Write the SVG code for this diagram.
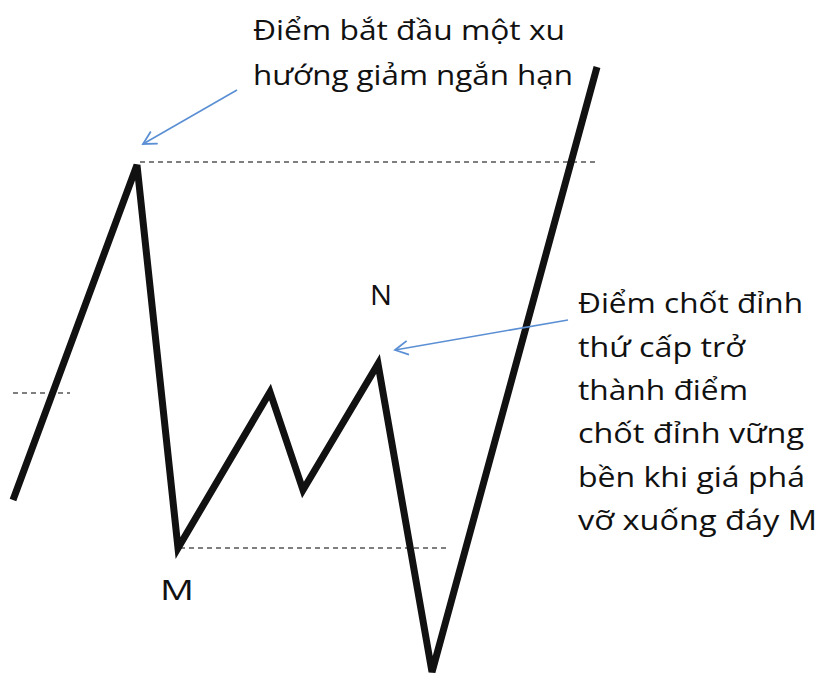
<svg xmlns="http://www.w3.org/2000/svg" width="819" height="677" viewBox="0 0 819 677">
<style>
.t{font-family:"Open Sans","Noto Sans","DejaVu Sans",sans-serif;font-size:28px;fill:#111}
.dash{stroke:#555;stroke-width:1.6;stroke-dasharray:5,4;fill:none}
.arr{stroke:#5b8fd4;stroke-width:1.6;fill:none}
</style>
<defs>
<marker id="ah" markerWidth="16" markerHeight="16" refX="14" refY="8" orient="auto" markerUnits="userSpaceOnUse">
<path d="M1,1 L14,8 L1,15" fill="none" stroke="#5b8fd4" stroke-width="1.8"/>
</marker>
</defs>
<rect width="819" height="677" fill="#fff"/>
<g id="levels">
<line class="dash" x1="13" y1="393" x2="70" y2="393"/>
<line class="dash" x1="140" y1="162" x2="597" y2="162"/>
<line class="dash" x1="180" y1="548" x2="448" y2="548"/>
</g>
<g id="price">
<polyline points="13,500 137,165 178,548 270,392 303,490 378,364 432,672 597,67" fill="none" stroke="#111" stroke-width="7" stroke-linejoin="miter"/>
</g>
<g id="connectors">
<line class="arr" x1="237" y1="90" x2="143" y2="144" marker-end="url(#ah)"/>
<line class="arr" x1="568" y1="320" x2="395" y2="350" marker-end="url(#ah)"/>
</g>
<g id="label-top">
<text class="t" x="253" y="40" textLength="312" lengthAdjust="spacingAndGlyphs">Điểm bắt đầu một xu</text>
<text class="t" x="253" y="85" textLength="320" lengthAdjust="spacingAndGlyphs">hướng giảm ngắn hạn</text>
</g>
<g id="label-right">
<text class="t" x="578" y="313" textLength="225" lengthAdjust="spacingAndGlyphs">Điểm chốt đỉnh</text>
<text class="t" x="578" y="357" textLength="167" lengthAdjust="spacingAndGlyphs">thứ cấp trở</text>
<text class="t" x="578" y="400" textLength="170" lengthAdjust="spacingAndGlyphs">thành điểm</text>
<text class="t" x="578" y="443" textLength="226" lengthAdjust="spacingAndGlyphs">chốt đỉnh vững</text>
<text class="t" x="578" y="487" textLength="227" lengthAdjust="spacingAndGlyphs">bền khi giá phá</text>
<text class="t" x="578" y="530" textLength="239" lengthAdjust="spacingAndGlyphs">vỡ xuống đáy M</text>
</g>
<g id="N"><text class="t" x="370" y="305" font-size="31" textLength="22" lengthAdjust="spacingAndGlyphs">N</text></g>
<g id="M"><text class="t" x="160" y="600" font-size="31" textLength="34" lengthAdjust="spacingAndGlyphs">M</text></g>
</svg>
